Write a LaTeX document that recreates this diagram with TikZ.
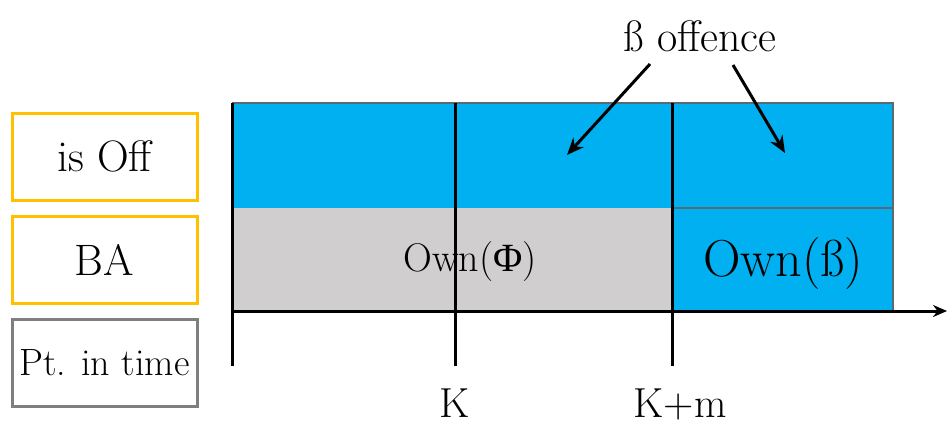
\documentclass[tikz,border=0pt]{standalone}
\usepackage{fontspec}
\newfontfamily\grfont{Liberation Serif}
\usetikzlibrary{arrows.meta}
\definecolor{cblue}{HTML}{00B0F0}
\definecolor{cgray}{HTML}{D0CECE}
\definecolor{cyellow}{HTML}{FFC000}
\definecolor{cborder}{HTML}{7F7F7F}
\definecolor{cedge}{HTML}{5A6A72}
\tikzset{
  legendbox/.style={draw, line width=3pt, minimum width=185pt, minimum height=87pt, inner sep=0pt, font=\fontsize{44}{48}\selectfont},
  blackline/.style={line width=3pt, black},
  pointer/.style={line width=3pt, -{Stealth[length=17pt,width=14pt]}},
  ticklabel/.style={font=\fontsize{42}{46}\selectfont, inner sep=0pt}
}
\begin{document}
\begin{tikzpicture}[x=1pt,y=-1pt]
\useasboundingbox (0,0) rectangle (947,424);
% legend boxes
\node[legendbox, draw=cyellow] (isoff) at (104.5,156.5) {is Off};
\node[legendbox, draw=cyellow] (ba) at (104.5,260) {BA};
\node[legendbox, draw=cborder, font=\fontsize{38}{42}\selectfont] (pt) at (104.5,362.5) {Pt. in time};
% fills
\fill[cblue] (232,103) rectangle (893,208);
\fill[cgray] (232,208) rectangle (672,311);
\fill[cblue] (672,208) rectangle (893,311);
\draw[cedge, line width=1.5pt] (232,103) -- (893,103) -- (893,311);
\draw[cedge, line width=1.5pt] (672,208) -- (893,208);
% texts in cells
\node[font=\fontsize{40}{44}\selectfont, inner sep=0pt] (ownphi) at (470,262) {Own({\grfont Φ})};
\node[font=\fontsize{52}{56}\selectfont, inner sep=0pt] (ownb) at (783,264) {Own(\ss)};
% axis and ticks
\coordinate (origin) at (232,311);
\coordinate (axisend) at (947,311);
\coordinate (t0top) at (232,103);
\coordinate (t0bot) at (232,366);
\coordinate (t1top) at (455,103);
\coordinate (t1bot) at (455,366);
\coordinate (t2top) at (672,103);
\coordinate (t2bot) at (672,366);
\draw[blackline] (t0top) -- (t0bot);
\draw[blackline] (t1top) -- (t1bot);
\draw[blackline] (t2top) -- (t2bot);
\draw[blackline, -{Stealth[length=14pt,width=12pt]}] (origin) -- (axisend);
\node[ticklabel, anchor=base] (k) at (455,417) {K};
\node[ticklabel, anchor=base] (km) at (680,417) {K+m};
% offence label and pointers
\node[font=\fontsize{44}{48}\selectfont, inner sep=0pt] (off) at (700,36) {\ss{} offence};
\coordinate (p1) at (567,155);
\coordinate (p2) at (785,153);
\draw[pointer] (650,64) -- (p1);
\draw[pointer] (733,65) -- (p2);
\end{tikzpicture}
\end{document}
